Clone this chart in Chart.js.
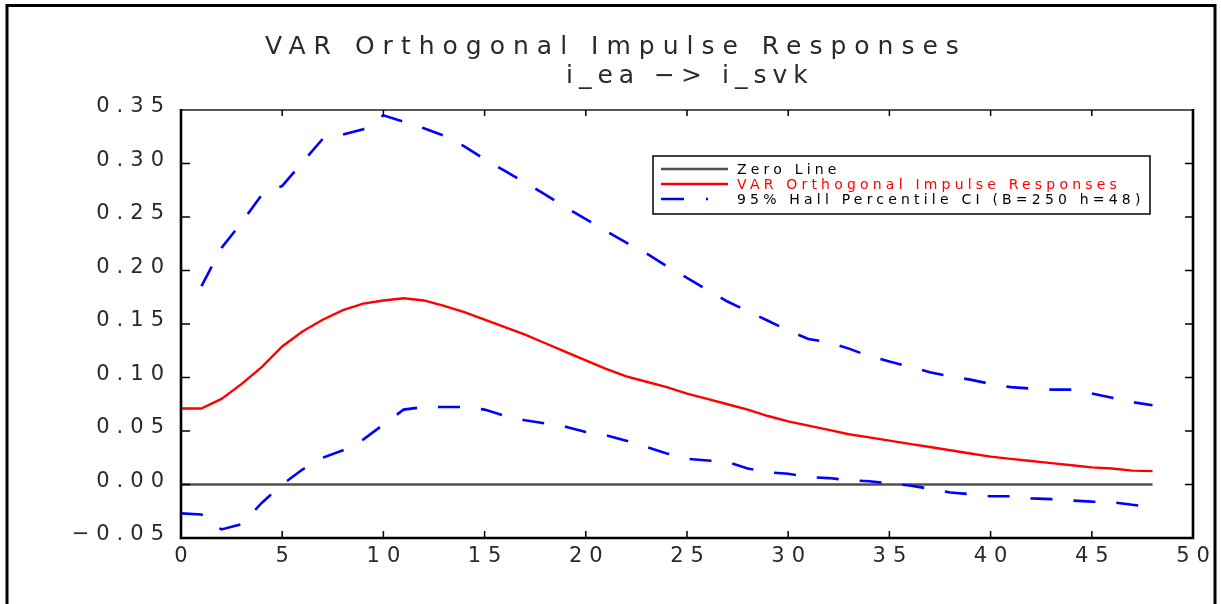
<!DOCTYPE html>
<html>
<head>
<meta charset="utf-8">
<title>VAR Orthogonal Impulse Responses</title>
<script src="https://cdn.jsdelivr.net/npm/chart.js@4.4.1/dist/chart.umd.min.js"></script>
<style>
  html, body { margin: 0; padding: 0; background: #ffffff; }
  canvas { display: block; }
</style>
</head>
<body>
<canvas id="irf" width="1221" height="604"></canvas>
<script>
// Horizons 0..48
const horizons = [0, 1, 2, 3, 4, 5, 6, 7, 8, 9, 10, 11, 12, 13, 14, 15, 16, 17, 18, 19, 20,
  21, 22, 23, 24, 25, 26, 27, 28, 29, 30, 31, 32, 33, 34, 35, 36, 37, 38, 39, 40,
  41, 42, 43, 44, 45, 46, 47, 48];

// Reference line at zero
const zeroLine = [0, 0, 0, 0, 0, 0, 0, 0, 0, 0, 0, 0, 0, 0, 0, 0, 0, 0, 0, 0, 0,
  0, 0, 0, 0, 0, 0, 0, 0, 0, 0, 0, 0, 0, 0, 0, 0, 0, 0, 0, 0,
  0, 0, 0, 0, 0, 0, 0, 0];

// Orthogonal impulse response of i_svk to a shock in i_ea
const impulseResponse = [0.071, 0.071, 0.080, 0.094, 0.110, 0.129, 0.143, 0.154, 0.163, 0.169,
  0.172, 0.174, 0.172, 0.167, 0.161, 0.154, 0.147, 0.140, 0.132, 0.124,
  0.116, 0.108, 0.101, 0.096, 0.091, 0.085, 0.080, 0.075, 0.070, 0.064,
  0.059, 0.055, 0.051, 0.047, 0.044, 0.041, 0.038, 0.035, 0.032, 0.029,
  0.026, 0.024, 0.022, 0.020, 0.018, 0.016, 0.015, 0.013, 0.0125];

// 95% Hall percentile bootstrap band
const ciUpper = [0.182, 0.185, 0.221, 0.245, 0.271, 0.279, 0.301, 0.323, 0.327, 0.332,
  0.345, 0.339, 0.333, 0.326, 0.316, 0.304, 0.293, 0.282, 0.271, 0.259,
  0.248, 0.237, 0.226, 0.216, 0.204, 0.193, 0.182, 0.171, 0.162, 0.153,
  0.144, 0.136, 0.133, 0.127, 0.120, 0.115, 0.110, 0.105, 0.101, 0.098,
  0.094, 0.091, 0.0896, 0.0887, 0.0887, 0.085, 0.081, 0.077, 0.074];

const ciLower = [-0.027, -0.028, -0.042, -0.037, -0.017, 0.000, 0.014, 0.025, 0.032, 0.042,
  0.056, 0.070, 0.0724, 0.0724, 0.0724, 0.070, 0.064, 0.060, 0.057, 0.054,
  0.049, 0.046, 0.041, 0.035, 0.029, 0.024, 0.0225, 0.021, 0.015, 0.0115,
  0.010, 0.007, 0.006, 0.004, 0.003, 0.001, -0.001, -0.004, -0.0075, -0.009,
  -0.011, -0.011, -0.013, -0.0137, -0.015, -0.016, -0.0165, -0.019, -0.021];

const xTicks = [0, 5, 10, 15, 20, 25, 30, 35, 40, 45, 50];
const yTicks = [-0.05, 0.00, 0.05, 0.10, 0.15, 0.20, 0.25, 0.30, 0.35];

const titleText = 'VAR Orthogonal Impulse Responses';
const subtitleText = 'i_ea \u2212> i_svk';

const FONT = '"DejaVu Sans", "Liberation Sans", sans-serif';
const TEXT_COLOR = '#2a2a2a';
const TICK_SPACING = '7px';
const BAND_DASH = [22, 21];

const toPoints = (ys) => horizons.map((h, i) => ({ x: h, y: ys[i] }));

// Frame, inward tick marks, titles and boxed legend
const decorations = {
  id: 'decorations',
  beforeUpdate(chart) { chart.ctx.letterSpacing = TICK_SPACING; },
  beforeDraw(chart) {
    const ctx = chart.ctx;
    ctx.save();
    ctx.fillStyle = '#ffffff';
    ctx.fillRect(0, 0, chart.width, chart.height);
    ctx.restore();
    ctx.letterSpacing = TICK_SPACING;
  },
  afterDraw(chart) {
    const ctx = chart.ctx;
    const a = chart.chartArea;
    const xs = chart.scales.x, ys = chart.scales.y;

    ctx.save();
    ctx.lineCap = 'butt';

    // plot box
    ctx.strokeStyle = '#555555';
    ctx.lineWidth = 2;
    ctx.beginPath(); ctx.moveTo(a.left, a.top); ctx.lineTo(a.right, a.top); ctx.stroke();
    ctx.strokeStyle = '#000000';
    ctx.lineWidth = 2.6;
    ctx.beginPath();
    ctx.moveTo(a.left, a.top - 1); ctx.lineTo(a.left, a.bottom);
    ctx.lineTo(a.right, a.bottom); ctx.lineTo(a.right, a.top - 1);
    ctx.stroke();

    // inward tick marks on all four sides
    ctx.lineWidth = 1.5;
    ctx.strokeStyle = '#000000';
    ctx.beginPath();
    xs.ticks.forEach(t => {
      const px = xs.getPixelForValue(t.value);
      if (px <= a.left + 2 || px >= a.right - 2) return;
      ctx.moveTo(px, a.bottom); ctx.lineTo(px, a.bottom - 7);
      ctx.moveTo(px, a.top); ctx.lineTo(px, a.top + 6);
    });
    ys.ticks.forEach(t => {
      const py = ys.getPixelForValue(t.value);
      if (py <= a.top + 2 || py >= a.bottom - 2) return;
      ctx.moveTo(a.left, py); ctx.lineTo(a.left + 9, py);
      ctx.moveTo(a.right, py); ctx.lineTo(a.right - 8, py);
    });
    ctx.stroke();

    // outer frame (open at the bottom)
    ctx.lineWidth = 3;
    ctx.strokeStyle = '#000000';
    ctx.beginPath();
    ctx.moveTo(7, chart.height); ctx.lineTo(7, 5.5);
    ctx.lineTo(1215, 5.5); ctx.lineTo(1215, chart.height);
    ctx.stroke();

    // titles
    ctx.fillStyle = TEXT_COLOR;
    ctx.textAlign = 'left';
    ctx.textBaseline = 'alphabetic';
    ctx.font = '25px ' + FONT;
    ctx.letterSpacing = '8px';
    ctx.fillText(titleText, 265, 54);
    ctx.letterSpacing = '6px';
    ctx.fillText(subtitleText, 566, 83);

    // legend box
    const box = { l: 653, t: 156, r: 1150, b: 214 };
    ctx.fillStyle = '#ffffff';
    ctx.fillRect(box.l, box.t, box.r - box.l, box.b - box.t);
    ctx.strokeStyle = '#000000';
    ctx.lineWidth = 1.5;
    ctx.strokeRect(box.l, box.t, box.r - box.l, box.b - box.t);

    ctx.font = '14px ' + FONT;
    ctx.letterSpacing = '4.2px';
    const rowY = [169, 184, 199];
    chart.data.datasets.filter(ds => !ds.hiddenInLegend).forEach((ds, i) => {
      const y = rowY[i];
      ctx.save();
      ctx.strokeStyle = ds.borderColor;
      ctx.lineWidth = ds.borderWidth;
      let x2 = 728;
      if (ds.borderDash && ds.borderDash.length) {
        ctx.setLineDash([23, 22]);
        x2 = 708;
      }
      ctx.beginPath(); ctx.moveTo(661, y); ctx.lineTo(x2, y); ctx.stroke();
      ctx.restore();
      ctx.fillStyle = ds.legendTextColor;
      ctx.fillText(ds.label, 737, y + 5);
    });

    ctx.restore();
    ctx.letterSpacing = TICK_SPACING;
  }
};

new Chart(document.getElementById('irf'), {
  type: 'line',
  data: {
    datasets: [
      {
        label: 'Zero Line',
        data: toPoints(zeroLine),
        borderColor: '#505050',
        borderWidth: 2.5,
        legendTextColor: '#000000',
        pointRadius: 0,
        tension: 0,
        order: 3
      },
      {
        label: 'VAR Orthogonal Impulse Responses',
        data: toPoints(impulseResponse),
        borderColor: '#ff0000',
        borderWidth: 2.4,
        legendTextColor: '#ff0000',
        pointRadius: 0,
        tension: 0,
        order: 1
      },
      {
        label: '95% Hall Percentile CI (B=250 h=48)',
        data: toPoints(ciUpper),
        borderColor: '#0000ff',
        borderWidth: 2.6,
        borderDash: BAND_DASH,
        borderDashOffset: 22,
        legendTextColor: '#000000',
        pointRadius: 0,
        tension: 0,
        order: 2
      },
      {
        label: '95% Hall Percentile CI lower bound',
        data: toPoints(ciLower),
        borderColor: '#0000ff',
        borderWidth: 2.6,
        borderDash: BAND_DASH,
        borderDashOffset: 0,
        legendTextColor: '#000000',
        pointRadius: 0,
        tension: 0,
        order: 2,
        hiddenInLegend: true
      }
    ]
  },
  options: {
    responsive: false,
    animation: false,
    events: [],
    layout: { padding: { left: 0, top: 110, right: 28, bottom: 26 } },
    plugins: {
      legend: { display: false },
      title: { display: false },
      tooltip: { enabled: false }
    },
    scales: {
      x: {
        type: 'linear',
        min: 0,
        max: 50,
        afterFit(scale) { scale.height = 40; },
        afterBuildTicks(scale) { scale.ticks = xTicks.map(v => ({ value: v })); },
        grid: { display: false, drawTicks: false },
        border: { display: false },
        ticks: {
          color: TEXT_COLOR,
          font: { family: FONT, size: 21 },
          padding: 6,
          labelOffset: 3.5,
          maxRotation: 0,
          autoSkip: false,
          callback: (v) => String(v)
        }
      },
      y: {
        type: 'linear',
        min: -0.05,
        max: 0.35,
        afterFit(scale) { scale.width = 181; },
        afterBuildTicks(scale) { scale.ticks = yTicks.map(v => ({ value: v })); },
        grid: { display: false, drawTicks: false },
        border: { display: false },
        ticks: {
          color: TEXT_COLOR,
          font: { family: FONT, size: 21 },
          padding: 10,
          labelOffset: -3,
          autoSkip: false,
          callback: (v) => (v < 0 ? '\u2212' : '') + Math.abs(v).toFixed(2)
        }
      }
    }
  },
  plugins: [decorations]
});
</script>
</body>
</html>
